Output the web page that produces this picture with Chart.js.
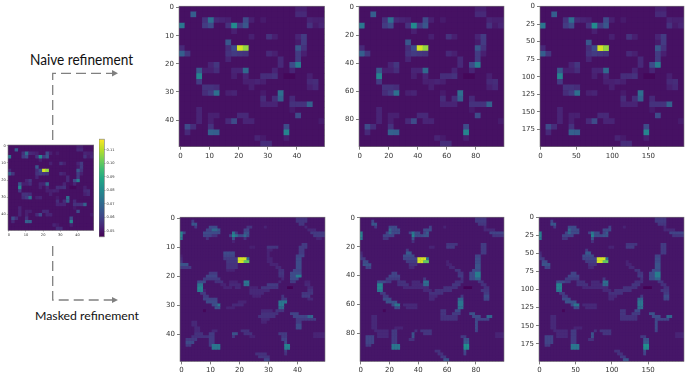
<!DOCTYPE html>
<html>
<head>
<meta charset="utf-8">
<script src="https://cdn.jsdelivr.net/npm/chart.js@4"></script>
<style>
  html, body { margin: 0; padding: 0; background: #fff; overflow: hidden; }
  #page { position: relative; width: 685px; height: 373px; }
  canvas { position: absolute; filter: blur(0.45px); }
  svg { position: absolute; left: 0; top: 0; }
  .note { position: absolute; font-family: Lato, sans-serif; color: #111; white-space: nowrap; transform-origin: left top; }
</style>
</head>
<body>
<div id="page">
  <svg width="685" height="373">
    <g fill="none" stroke="#808080" stroke-width="1.3" stroke-dasharray="10 5">
      <path d="M52.7 140V73.3H112"/>
      <path d="M52.7 246V300H112"/>
    </g>
    <path d="M112 70L118 73.3L112 76.6Z" fill="#808080"/>
    <path d="M112 297L118 300L112 303Z" fill="#808080"/>
  </svg>
  <span class="note" id="naiveNote" style="left:30px;top:50px;font-size:15.5px;transform:scaleX(0.88)">Naive refinement</span>
  <span class="note" id="maskedNote" style="left:35px;top:308px;font-size:12.3px">Masked refinement</span>
</div>
<script>
// values in thousandths, runs are [row, fromCol, toCol, value]
const naiveBase = 49;
const naiveRuns = [
  [0,20,21,52],
  [1,2,2,67],[1,20,21,54],
  [2,4,4,56],[2,5,5,72],[2,6,6,54],[2,7,7,53],[2,8,8,52],[2,11,11,62],[2,12,12,52],[2,14,14,51],[2,22,22,53],[2,23,24,52],
  [3,0,0,74],[3,4,4,58],[3,5,5,62],[3,8,8,56],[3,9,9,80],[3,10,10,58],[3,11,11,65],[3,22,22,56],[3,23,23,51],[3,24,24,53],
  [4,9,9,52],
  [5,12,12,52],[5,15,15,56],[5,16,16,52],[5,20,20,53],[5,21,21,58],
  [6,8,8,65],[6,20,20,51],[6,21,21,58],
  [7,0,0,54],[7,8,8,55],[7,9,9,62],[7,10,10,113],[7,11,11,106],[7,20,20,65],[7,21,21,56],
  [8,0,0,67],[8,1,1,57],[8,8,8,56],[8,9,9,58],[8,10,10,57],[8,11,11,56],[8,15,15,54],[8,16,16,52],[8,20,20,58],[8,21,21,52],
  [9,8,8,53],[9,17,17,54],[9,20,20,58],
  [10,5,5,53],[10,6,6,57],[10,17,17,54],[10,19,19,62],[10,20,20,76],
  [11,3,3,65],[11,4,5,52],[11,6,6,55],[11,9,10,53],[11,11,11,70],[11,16,16,53],[11,19,19,53],
  [12,3,3,78],[12,9,9,52],[12,11,11,53],[12,14,15,55],[12,16,16,56],[12,18,19,47],[12,22,22,52],
  [13,3,3,58],[13,11,12,52],[13,13,13,53],[13,14,14,52],[13,22,22,54],[13,23,23,55],
  [14,4,5,56],[14,6,6,55],[14,12,12,52],[14,22,22,52],[14,23,23,54],
  [15,4,4,55],[15,5,5,58],[15,6,6,72],[15,8,8,52],[15,9,9,53],[15,14,14,51],[15,17,17,72],
  [16,14,14,55],[16,16,16,55],[16,17,17,68],[16,19,19,54],
  [17,14,16,53],[17,19,21,56],[17,22,22,68],
  [18,3,3,53],[18,19,19,51],
  [19,3,3,53],[19,5,6,52],[19,10,11,54],[19,20,20,62],
  [20,3,3,53],[20,5,5,52],[20,8,8,54],[20,9,9,62],[20,11,12,53],[20,24,24,51],
  [21,1,1,62],[21,2,2,55],[21,5,5,56],[21,18,18,62],
  [22,1,1,54],[22,5,5,68],[22,6,6,67],[22,18,18,78],
  [23,13,13,53],[23,14,14,51],[23,18,18,52],
  [24,14,15,55]
];

const maskedBase = 50;
// masked result at 50x50
const maskedRuns = [
  [0,40,43,56],
  [1,4,4,58],[1,40,43,57],
  [2,4,5,65],[2,41,42,57],
  [3,5,5,58],[3,10,12,62],[3,23,24,57],[3,29,29,53],[3,43,43,54],
  [4,9,10,60],[4,11,12,70],[4,13,13,64],[4,22,23,60],[4,44,46,54],
  [5,0,0,78],[5,1,1,62],[5,8,13,62],[5,18,18,74],[5,19,19,58],[5,22,23,64],[5,45,49,58],
  [6,0,0,78],[6,8,10,60],[6,11,12,56],[6,17,17,60],[6,18,18,80],[6,19,19,72],[6,20,21,62],[6,22,22,70],[6,23,23,62],[6,46,49,58],
  [7,0,0,74],[7,9,9,56],[7,18,18,64],[7,22,22,56],[7,47,48,53],
  [8,18,18,53],
  [9,42,43,58],
  [10,24,25,52],[10,30,33,57],[10,41,43,58],
  [11,30,31,53],[11,41,42,58],
  [12,15,18,62],[12,30,30,53],[12,41,42,58],
  [13,0,0,52],[13,15,18,60],[13,30,30,53],[13,40,42,60],
  [14,0,0,54],[14,15,19,58],[14,20,22,113],[14,23,23,72],[14,30,31,53],[14,40,41,62],
  [15,0,0,57],[15,16,19,57],[15,20,21,113],[15,22,23,100],[15,30,31,53],[15,40,41,62],
  [16,0,2,64],[16,16,19,56],[16,31,33,53],[16,40,41,62],
  [17,0,3,58],[17,16,19,56],[17,33,34,54],[17,40,41,62],
  [18,16,18,53],[18,34,35,56],[18,39,41,60],
  [19,10,12,58],[19,34,35,57],[19,38,41,62],
  [20,9,12,60],[20,34,35,56],[20,38,39,62],[20,40,41,76],
  [21,8,13,58],[21,35,35,54],[21,38,40,62],
  [22,6,8,62],[22,12,14,56],[22,17,19,53],[22,22,23,74],[22,34,34,54],[22,38,39,58],[22,43,44,53],
  [23,6,7,74],[23,14,15,53],[23,17,20,54],[23,22,23,72],[23,30,33,58],[23,43,44,54],
  [24,6,7,78],[24,15,17,53],[24,19,20,54],[24,24,26,53],[24,28,33,57],[24,37,38,46],[24,44,45,54],
  [25,6,7,76],[25,8,8,53],[25,24,30,54],[25,44,45,56],
  [26,7,8,58],[26,24,28,54],[26,42,45,57],
  [27,8,9,58],[27,25,27,53],[27,35,35,57],[27,42,44,58],
  [28,8,12,60],[28,35,36,58],[28,44,45,54],
  [29,9,12,62],[29,20,22,53],[29,34,36,74],
  [30,11,11,62],[30,12,12,64],[30,13,13,74],[30,18,21,54],[30,34,35,75],
  [31,12,13,64],[31,16,18,53],[31,34,35,70],
  [32,8,8,47],[32,28,31,54],[32,33,35,57],
  [33,28,33,56],[33,38,40,60],
  [34,27,32,56],[34,39,43,60],[34,44,45,70],
  [35,28,30,54],[35,40,46,58],
  [36,4,5,54],[36,28,29,53],[36,40,41,58],
  [37,4,5,54],[37,40,41,62],
  [38,5,6,54],[38,40,41,62],
  [39,5,6,54],[39,11,12,54],[39,21,23,56],
  [40,5,7,56],[40,10,11,58],[40,18,19,64],[40,22,24,56],[40,34,36,58],[40,46,49,53],
  [41,4,9,56],[41,10,11,58],[41,18,18,58],[41,24,25,53],[41,35,36,58],[41,46,49,53],
  [42,2,5,58],[42,10,11,58],[42,35,36,60],
  [43,2,4,62],[43,10,11,58],[43,36,36,62],
  [44,2,3,58],[44,10,10,58],[44,11,13,74],[44,36,37,78],
  [45,11,13,74],[45,36,37,76],
  [46,36,36,58],
  [47,26,29,56],[47,36,36,56],
  [48,27,30,57],
  [49,29,30,60]
];

const maskedFineRuns = [
  [0,40,43,57],
  [1,4,4,60],[1,40,43,58],
  [2,4,5,65],[2,41,43,57],
  [3,5,5,58],[3,10,12,62],[3,24,24,60],[3,29,29,53],[3,43,43,54],
  [4,10,10,70],[4,11,13,62],[4,22,24,62],[4,43,46,54],
  [5,0,0,76],[5,9,9,60],[5,10,10,70],[5,11,13,62],[5,17,17,60],[5,18,18,74],[5,19,20,62],[5,22,22,60],[5,23,23,66],[5,45,49,60],
  [6,0,0,78],[6,8,11,60],[6,18,18,78],[6,19,21,62],[6,22,23,64],[6,46,49,57],
  [7,0,0,74],[7,8,9,57],[7,18,18,64],
  [8,18,18,56],
  [9,30,33,57],[9,42,43,58],
  [10,24,25,53],[10,30,32,58],[10,42,43,58],
  [11,16,16,58],[11,42,43,58],
  [12,0,0,54],[12,16,17,66],[12,42,43,58],
  [13,0,0,56],[13,15,18,62],[13,40,41,60],
  [14,0,1,58],[14,15,19,60],[14,20,22,113],[14,23,23,74],[14,40,41,62],
  [15,1,2,62],[15,16,19,58],[15,20,21,113],[15,22,23,100],[15,30,30,53],[15,40,41,62],
  [16,1,3,64],[16,17,19,56],[16,30,31,53],[16,40,41,64],
  [17,2,3,60],[17,17,18,54],[17,31,32,54],[17,40,41,64],
  [18,33,34,57],[18,39,41,62],
  [19,11,12,60],[19,34,35,57],[19,38,39,62],[19,40,41,76],
  [20,10,13,60],[20,34,35,58],[20,38,39,62],[20,40,41,76],
  [21,9,13,58],[21,22,22,58],[21,35,35,56],[21,38,39,62],[21,40,41,68],
  [22,6,8,62],[22,9,10,58],[22,13,15,56],[22,18,20,54],[22,22,23,72],[22,33,35,56],[22,41,42,57],
  [23,6,7,78],[23,13,16,56],[23,18,21,54],[23,22,23,70],[23,32,34,57],[23,42,43,56],
  [24,6,7,78],[24,15,23,54],[24,29,33,56],[24,36,38,46],[24,43,44,56],
  [25,6,7,74],[25,22,24,54],[25,26,31,56],[25,42,44,57],
  [26,7,8,58],[26,24,28,56],[26,43,44,58],
  [27,8,9,58],[27,24,26,54],[27,35,35,58],[27,43,44,62],
  [28,8,10,62],[28,24,25,54],[28,34,35,68],[28,43,44,60],
  [29,9,12,64],[29,34,35,74],
  [30,11,11,62],[30,12,13,74],[30,15,19,54],[30,34,35,74],
  [31,12,13,62],[31,16,19,54],[31,34,35,72],
  [32,8,8,47],[32,28,29,57],[32,33,34,62],
  [33,28,29,57],[33,32,34,58],[33,38,39,64],
  [34,4,5,54],[34,28,33,56],[34,39,41,62],[34,44,45,70],
  [35,4,5,54],[35,28,33,56],[35,40,44,60],
  [36,4,5,54],[36,40,40,62],
  [37,4,5,54],[37,40,40,62],
  [38,4,5,54],[38,12,14,53],[38,40,40,62],
  [39,5,9,54],[39,11,12,58],[39,19,19,56],[39,21,24,57],[39,40,40,60],
  [40,6,9,54],[40,11,12,58],[40,18,18,64],[40,22,24,57],[40,47,49,53],
  [41,2,4,60],[41,6,9,54],[41,11,12,58],[41,18,18,64],[41,35,36,58],[41,47,49,53],
  [42,2,4,60],[42,11,12,58],[42,17,18,56],[42,36,37,64],
  [43,2,4,60],[43,11,12,58],[43,36,37,66],
  [44,2,3,58],[44,11,13,74],[44,36,37,82],
  [45,11,13,74],[45,36,37,80],
  [46,26,27,56],[46,36,36,62],
  [47,27,28,56],[47,36,36,60],
  [48,28,29,58],
  [49,29,30,64]
];

const ticks50 = [0, 10, 20, 30, 40];
const ticks100 = [0, 20, 40, 60, 80];
const ticks200x = [0, 50, 100, 150];
const ticks200y = [0, 25, 50, 75, 100, 125, 150, 175];
const colorbarTicks = [0.05, 0.06, 0.07, 0.08, 0.09, 0.10, 0.11];
const colorbarRange = [0.0457, 0.1177];

const viridis = ['#440154', '#482475', '#414487', '#355f8d', '#2a788e', '#21908d', '#22a884', '#42be71', '#7ad151', '#bddf26', '#fde725'];

function hexToRgb(hex) {
  return [1, 3, 5].map(i => parseInt(hex.slice(i, i + 2), 16));
}

function colorFor(v) {
  const t = Math.min(1, Math.max(0, (v - colorbarRange[0]) / (colorbarRange[1] - colorbarRange[0]))) * (viridis.length - 1);
  const i = Math.min(viridis.length - 2, Math.floor(t));
  const a = hexToRgb(viridis[i]), b = hexToRgb(viridis[i + 1]);
  const f = t - i;
  return `rgb(${a.map((c, k) => Math.round(c + (b[k] - c) * f)).join(',')})`;
}

// expands a run list to one point per cell, in axis units
function buildCells(size, base, runs, axisSize) {
  const grid = [];
  for (let r = 0; r < size; r++) grid.push(new Array(size).fill(base));
  runs.forEach(([row, from, to, value]) => {
    for (let c = from; c <= to; c++) grid[row][c] = value;
  });
  const unit = axisSize / size;
  const cells = [];
  grid.forEach((line, r) => line.forEach((value, c) => {
    cells.push({ x: (c + 0.5) * unit - 0.5, y: (r + 0.5) * unit - 0.5, v: value / 1000 });
  }));
  return cells;
}

// plot background behind the cells, so no white shows between them
const underlay = {
  id: 'underlay',
  beforeDatasetsDraw(chart, args, opts) {
    const a = chart.chartArea;
    chart.ctx.save();
    chart.ctx.fillStyle = opts.color || viridis[0];
    chart.ctx.fillRect(a.left, a.top, a.width, a.height);
    chart.ctx.restore();
  }
};

const frame = {
  id: 'frame',
  afterDatasetsDraw(chart) {
    const a = chart.chartArea, g = chart.ctx;
    g.save();
    g.strokeStyle = '#777';
    g.lineWidth = 0.6;
    g.strokeRect(a.left, a.top, a.width, a.height);
    g.restore();
  }
};

function addCanvas(left, top, width, height) {
  const canvas = document.createElement('canvas');
  canvas.width = width;
  canvas.height = height;
  canvas.style.left = left + 'px';
  canvas.style.top = top + 'px';
  document.getElementById('page').appendChild(canvas);
  return canvas;
}

function axisOptions(position, axisSize, tickList, fontSize, tickLength, margin, reverse) {
  return {
    type: 'linear',
    position: position,
    reverse: reverse,
    min: -0.5,
    max: axisSize - 0.5,
    afterBuildTicks: axis => { axis.ticks = tickList.map(v => ({ value: v })); },
    afterFit: axis => {
      if (position === 'left') axis.width = margin; else axis.height = margin;
    },
    grid: { drawOnChartArea: false, drawTicks: true, tickLength: tickLength, color: '#444', lineWidth: fontSize < 5 ? 0.4 : 0.7 },
    border: { display: false },
    ticks: {
      autoSkip: false,
      maxRotation: 0,
      padding: fontSize < 5 ? 1 : 2,
      color: '#333',
      font: { family: 'DejaVu Sans', size: fontSize }
    }
  };
}

function heatmap(box, cells, cellsAcross, axisSize, xTicks, yTicks, fontSize, base) {
  const marginLeft = fontSize < 5 ? 8 : 24;
  const marginBottom = fontSize < 5 ? 9 : 14;
  const marginTop = Math.min(box.top, 6);
  const canvas = addCanvas(box.left - marginLeft, box.top - marginTop,
    Math.ceil(box.width + marginLeft + 2), Math.ceil(box.height + marginTop + marginBottom));
  if (box.soft) canvas.style.filter = 'blur(0.75px)';
  const radius = box.width / cellsAcross * Math.SQRT1_2 + 0.3;
  return new Chart(canvas.getContext('2d'), {
    type: 'scatter',
    data: { datasets: [{ data: cells, pointStyle: 'rect', borderWidth: 0 }] },
    options: {
      responsive: false,
      animation: false,
      devicePixelRatio: 1,
      layout: { autoPadding: false, padding: { top: marginTop, right: canvas.width - marginLeft - box.width, left: 0, bottom: canvas.height - marginTop - box.height - marginBottom } },
      plugins: { legend: { display: false }, tooltip: { enabled: false }, underlay: { color: colorFor(base / 1000) } },
      elements: {
        point: {
          radius: radius,
          backgroundColor: ctx => ctx.raw ? colorFor(ctx.raw.v) : viridis[0],
          borderColor: ctx => ctx.raw ? colorFor(ctx.raw.v) : viridis[0],
          borderWidth: 0
        }
      },
      scales: {
        x: axisOptions('bottom', axisSize, xTicks, fontSize, fontSize < 5 ? 1.2 : 3, marginBottom, false),
        y: axisOptions('left', axisSize, yTicks, fontSize, fontSize < 5 ? 1.2 : 3, marginLeft, true)
      }
    },
    plugins: [underlay, frame]
  });
}

function colorbar() {
  const canvas = addCanvas(99, 136, 26, 104);
  return new Chart(canvas.getContext('2d'), {
    type: 'bar',
    data: {
      labels: [''],
      datasets: [{
        data: [colorbarRange],
        barPercentage: 1,
        categoryPercentage: 1,
        backgroundColor: ctx => {
          const a = ctx.chart.chartArea;
          if (!a) return viridis[0];
          const g = ctx.chart.ctx.createLinearGradient(0, a.bottom, 0, a.top);
          viridis.forEach((c, i) => g.addColorStop(i / (viridis.length - 1), c));
          return g;
        }
      }]
    },
    options: {
      responsive: false,
      animation: false,
      devicePixelRatio: 1,
      layout: { autoPadding: false, padding: { top: 2.3, bottom: 1.7, left: 0, right: 0 } },
      plugins: { legend: { display: false }, tooltip: { enabled: false } },
      scales: {
        x: { display: false },
        y: {
          position: 'right',
          min: colorbarRange[0],
          max: colorbarRange[1],
          afterBuildTicks: axis => { axis.ticks = colorbarTicks.map(v => ({ value: v })); },
          afterFit: axis => { axis.width = 20.7; },
          grid: { drawOnChartArea: false, tickLength: 1.2, color: '#444', lineWidth: 0.4 },
          border: { display: false },
          ticks: {
            padding: 1,
            color: '#333',
            font: { family: 'DejaVu Sans', size: 3.6 },
            callback: v => v.toFixed(2)
          }
        }
      }
    },
    plugins: [frame]
  });
}

document.addEventListener('DOMContentLoaded', () => {
  heatmap({ left: 8, top: 145.3, width: 85.7, height: 85.4 }, buildCells(25, naiveBase, naiveRuns, 50), 25, 50, ticks50, ticks50, 3.6, naiveBase);
  colorbar();

  heatmap({ left: 178.5, top: 2.7, width: 145.5, height: 144 }, buildCells(25, naiveBase, naiveRuns, 50), 25, 50, ticks50, ticks50, 7, naiveBase);
  heatmap({ left: 358.5, top: 2.7, width: 145, height: 144 }, buildCells(25, naiveBase, naiveRuns, 100), 25, 100, ticks100, ticks100, 7, naiveBase);
  heatmap({ left: 539.5, top: 3.5, width: 144, height: 143.2 }, buildCells(25, naiveBase, naiveRuns, 200), 25, 200, ticks200x, ticks200y, 7, naiveBase);

  heatmap({ left: 180, top: 217.3, width: 145, height: 144.4 }, buildCells(50, maskedBase, maskedRuns, 50), 50, 50, ticks50, ticks50, 7, maskedBase);
  heatmap({ left: 359.5, top: 217.3, width: 144, height: 144.4, soft: true }, buildCells(50, maskedBase, maskedFineRuns, 100), 50, 100, ticks100, ticks100, 7, maskedBase);
  heatmap({ left: 538.5, top: 217.3, width: 145, height: 144.4, soft: true }, buildCells(50, maskedBase, maskedFineRuns, 200), 50, 200, ticks200x, ticks200y, 7, maskedBase);
});
</script>
</body>
</html>
